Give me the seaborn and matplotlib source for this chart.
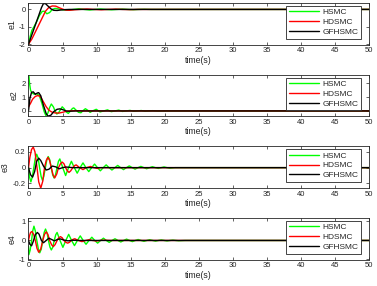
import numpy as np
import pandas as pd
import matplotlib
matplotlib.use("Agg")
import matplotlib.pyplot as plt
import seaborn as sns

# ---- donnees ----
series_names = ["HSMC", "HDSMC", "GFHSMC"]
series_colors = ["#00ff00", "#ff0000", "#000000"]

# e1
t_e1_hsmc = [0, 0.25, 0.5, 0.8, 1.2, 1.6, 2.0, 2.3, 2.7, 3.1, 3.5, 3.9, 4.4, 5.0, 5.8, 6.6, 7.4, 8.2,
             9.0, 9.8, 10.6, 11.4, 12.2, 13.0, 13.8, 14.6, 15.4, 16.2, 17.0, 18.0, 20.0, 50.0]
e1_hsmc = [-2.0, -1.55, -1.2, -1.0, -0.7, -0.35, -0.12, -0.1, -0.25, -0.18, 0.0, 0.06, 0.03, -0.02, -0.04,
           0.0, 0.035, 0.0, -0.03, 0.0, 0.025, 0.0, -0.02, 0.0, 0.018, 0.0, -0.015, 0.0, 0.01, 0.0, 0.0, 0.0]
t_e1_hdsmc = [0, 0.5, 1.0, 1.5, 2.0, 2.5, 3.0, 3.5, 4.0, 4.5, 5.0, 5.5, 6.0, 6.8, 7.5, 8.6, 9.6, 10.7,
              11.7, 12.8, 13.8, 14.9, 16.0, 18.0, 50.0]
e1_hdsmc = [-2.0, -1.7, -1.3, -0.9, -0.5, -0.1, 0.12, 0.2, 0.19, 0.1, 0.02, -0.04, -0.05, -0.02, 0.0,
            0.025, 0.0, -0.02, 0.0, 0.018, 0.0, -0.012, 0.0, 0.0, 0.0]
t_e1_gfhsmc = [0, 0.5, 1.0, 1.5, 1.9, 2.2, 2.5, 2.9, 3.3, 3.7, 4.2, 4.8, 5.4, 6.0, 50.0]
e1_gfhsmc = [-2.0, -1.45, -0.9, -0.35, 0.1, 0.34, 0.33, 0.18, 0.03, -0.05, -0.06, -0.03, -0.01, 0.0, 0.0]

# e2
t_e2_hsmc = [0, 0.15, 0.3, 0.5, 0.8, 1.2, 1.6, 2.0, 2.3, 2.55, 2.85, 3.1, 3.35, 3.65, 3.9, 4.15, 4.4,
             4.7, 4.95, 5.25, 5.55, 5.85, 6.15, 6.45, 6.65, 7.0, 7.35, 7.7, 8.0, 8.35, 8.7, 9.05, 9.4,
             9.95, 10.5, 11.05, 11.6, 12.15, 12.7, 13.25, 13.8, 14.35, 14.9, 15.45, 16.0, 16.55, 17.1,
             17.65, 18.2, 19.0, 20.0, 50.0]
e2_hsmc = [2.9, 2.0, 1.5, 1.3, 1.22, 1.25, 1.1, 0.5, -0.05, -0.33, -0.15, 0.25, 0.5, 0.3, 0.0, -0.22, -0.15,
           0.1, 0.3, 0.15, -0.08, -0.18, 0.0, 0.18, 0.22, 0.05, -0.1, -0.13, 0.02, 0.16, 0.05, -0.1, 0.0,
           0.12, -0.07, 0.0, 0.08, -0.05, 0.0, 0.06, -0.035, 0.0, 0.04, -0.025, 0.0, 0.03, -0.02, 0.0,
           0.02, -0.01, 0.0, 0.0]
t_e2_hdsmc = [0, 0.3, 0.6, 1.0, 1.4, 1.8, 2.2, 2.6, 3.0, 3.5, 4.0, 4.5, 5.0, 5.5, 6.0, 7.0, 8.0, 50.0]
e2_hdsmc = [0.3, 0.55, 0.85, 1.05, 1.12, 1.0, 0.65, 0.3, 0.05, -0.1, -0.15, -0.15, -0.1, -0.03, 0.0, 0.02, 0.0, 0.0]
t_e2_gfhsmc = [0, 0.2, 0.45, 0.7, 1.0, 1.3, 1.5, 1.8, 2.2, 2.6, 2.9, 3.3, 3.7, 4.2, 4.6, 5.0, 5.5, 6.0, 7.0, 50.0]
e2_gfhsmc = [0.0, 0.9, 1.35, 1.38, 1.2, 1.3, 1.32, 1.1, 0.4, -0.2, -0.38, -0.3, -0.05, 0.12, 0.15, 0.1,
             0.0, -0.02, 0.0, 0.0]

# e3
t_e3_hsmc = [0, 0.15, 0.35, 0.55, 0.78, 1.0, 1.2, 1.42, 1.63, 1.85, 2.05, 2.25, 2.48, 2.7, 2.9, 3.12, 3.33,
             3.55, 3.75, 3.97, 4.18, 4.4, 4.6, 5.03, 5.45, 5.88, 6.3, 6.73, 7.15, 7.58, 8.0, 8.43, 8.85,
             9.28, 9.7, 10.13, 10.55, 10.98, 11.4, 11.83, 12.25, 12.68, 13.1, 13.53, 13.95, 14.38, 14.8,
             15.23, 15.65, 16.08, 16.5, 16.93, 17.35, 17.78, 18.2, 18.63, 19.05, 19.48, 19.9, 20.33,
             20.75, 21.5, 22.5, 50.0]
e3_hsmc = [0.0, -0.12, -0.18, -0.12, 0.0, 0.12, 0.17, 0.12, 0.0, -0.11, -0.16, -0.11, 0.0, 0.1, 0.14, 0.1,
           0.0, -0.09, -0.13, -0.09, 0.0, 0.08, 0.11, 0.0, -0.1, 0.0, 0.08, 0.0, -0.07, 0.0, 0.06, 0.0,
           -0.05, 0.0, 0.045, 0.0, -0.04, 0.0, 0.035, 0.0, -0.03, 0.0, 0.028, 0.0, -0.025, 0.0, 0.022, 0.0,
           -0.019, 0.0, 0.016, 0.0, -0.014, 0.0, 0.012, 0.0, -0.01, 0.0, 0.009, 0.0, -0.007, 0.0, 0.0, 0.0]
t_e3_hdsmc = [0, 0.2, 0.45, 0.7, 0.95, 1.25, 1.5, 1.8, 2.1, 2.35, 2.6, 2.85, 3.1, 3.35, 3.6, 3.85, 4.15,
              4.4, 4.7, 4.95, 5.2, 5.45, 5.7, 5.95, 6.2, 6.5, 6.75, 7.0, 7.5, 8.0, 8.5, 9.1, 9.6, 10.1,
              10.6, 12.0, 50.0]
e3_hdsmc = [0.0, 0.13, 0.23, 0.26, 0.2, 0.0, -0.18, -0.26, -0.17, 0.0, 0.09, 0.13, 0.09, 0.0, -0.09, -0.13,
            -0.08, 0.0, 0.05, 0.07, 0.05, 0.0, -0.04, -0.06, -0.04, 0.0, 0.025, 0.035, 0.0, -0.025, 0.0,
            0.015, 0.0, -0.01, 0.0, 0.0, 0.0]
t_e3_gfhsmc = [0, 0.3, 0.6, 0.9, 1.2, 1.5, 1.8, 2.2, 2.6, 3.0, 3.5, 4.0, 4.5, 5.0, 5.5, 6.5, 50.0]
e3_gfhsmc = [0.0, -0.09, -0.12, -0.05, 0.08, 0.12, 0.09, 0.02, -0.03, -0.02, 0.02, 0.01, -0.015, 0.0,
             0.008, 0.0, 0.0]

# e4
t_e4_hsmc = [0, 0.05, 0.25, 0.45, 0.62, 0.8, 1.0, 1.22, 1.45, 1.65, 1.88, 2.08, 2.3, 2.5, 2.72, 2.93, 3.15,
             3.35, 3.57, 3.78, 4.0, 4.2, 4.63, 5.05, 5.48, 5.9, 6.33, 6.75, 7.18, 7.6, 8.03, 8.45, 8.88,
             9.3, 9.73, 10.15, 10.58, 11.0, 11.43, 11.85, 12.28, 12.7, 13.13, 13.55, 13.98, 14.4, 14.83,
             15.25, 15.68, 16.1, 16.53, 16.95, 17.38, 17.8, 18.23, 18.65, 19.08, 19.5, 19.93, 20.35,
             20.78, 21.2, 21.63, 22.05, 23.0, 50.0]
e4_hsmc = [-0.3, -0.75, -0.5, 0.0, 0.5, 0.75, 0.5, 0.0, -0.45, -0.65, -0.45, 0.0, 0.42, 0.6, 0.4, 0.0, -0.35,
           -0.5, -0.35, 0.0, 0.3, 0.42, 0.0, -0.36, 0.0, 0.32, 0.0, -0.27, 0.0, 0.24, 0.0, -0.2, 0.0,
           0.17, 0.0, -0.14, 0.0, 0.12, 0.0, -0.1, 0.0, 0.09, 0.0, -0.08, 0.0, 0.07, 0.0, -0.06, 0.0,
           0.05, 0.0, -0.045, 0.0, 0.04, 0.0, -0.035, 0.0, 0.03, 0.0, -0.025, 0.0, 0.02, 0.0, -0.015,
           0.0, 0.0]
t_e4_hdsmc = [0, 0.15, 0.3, 0.5, 0.75, 1.0, 1.25, 1.5, 1.8, 2.1, 2.35, 2.6, 2.85, 3.1, 3.4, 3.65, 3.9,
              4.2, 4.45, 4.7, 4.95, 5.2, 5.5, 5.75, 6.0, 6.3, 6.55, 6.8, 7.3, 7.85, 8.4, 8.9, 9.4,
              9.95, 10.5, 11.0, 12.0, 50.0]
e4_hdsmc = [0.0, 0.25, 0.42, 0.47, 0.33, 0.0, -0.42, -0.62, -0.45, 0.0, 0.32, 0.45, 0.32, 0.0, -0.23, -0.32,
            -0.22, 0.0, 0.14, 0.2, 0.14, 0.0, -0.1, -0.14, -0.1, 0.0, 0.06, 0.09, 0.0, -0.06, 0.0, 0.04,
            0.0, -0.025, 0.0, 0.015, 0.0, 0.0]
t_e4_gfhsmc = [0, 0.2, 0.45, 0.7, 1.0, 1.3, 1.55, 1.9, 2.2, 2.6, 3.0, 3.4, 3.8, 4.3, 4.7, 5.2, 5.8, 6.5,
               7.5, 50.0]
e4_gfhsmc = [0.0, -0.2, -0.28, -0.05, 0.3, 0.42, 0.33, 0.0, -0.12, 0.0, 0.12, 0.05, -0.02, 0.06, 0.08,
             0.02, -0.02, 0.01, 0.0, 0.0]

panel_labels = ["e1", "e2", "e3", "e4"]
panel_ylims = [(-2.02, 0.37), (-0.38, 2.62), (-0.255, 0.27), (-0.89, 1.18)]
panel_yticks = [[-2, -1, 0], [0, 1, 2], [-0.2, 0, 0.2], [-1, 0, 1]]
panel_yticklabels = [["-2", "-1", "0"], ["0", "1", "2"], ["-0.2", "0", "0.2"], ["-1", "0", "1"]]
x_ticks = [0, 5, 10, 15, 20, 25, 30, 35, 40, 45, 50]

panels = [
    [(t_e1_hsmc, e1_hsmc), (t_e1_hdsmc, e1_hdsmc), (t_e1_gfhsmc, e1_gfhsmc)],
    [(t_e2_hsmc, e2_hsmc), (t_e2_hdsmc, e2_hdsmc), (t_e2_gfhsmc, e2_gfhsmc)],
    [(t_e3_hsmc, e3_hsmc), (t_e3_hdsmc, e3_hdsmc), (t_e3_gfhsmc, e3_gfhsmc)],
    [(t_e4_hsmc, e4_hsmc), (t_e4_hdsmc, e4_hdsmc), (t_e4_gfhsmc, e4_gfhsmc)],
]

# ---- style ----
sns.set_style("ticks")
plt.rcParams['font.family'] = ['Liberation Sans', 'DejaVu Sans']
gris = "#262626"

W, H = 377, 286
fig = plt.figure(figsize=(W / 100, H / 100), dpi=100)
fig.patch.set_facecolor("white")

tops = [3, 74.7, 146.3, 218]
h_px = 41.5
left_px, w_px = 28.5, 340.5

for i, series in enumerate(panels):
    ax = fig.add_axes([left_px / W, 1 - (tops[i] + h_px) / H, w_px / W, h_px / H])
    for (t, y), name, col in zip(series, series_names, series_colors):
        df = pd.DataFrame({"t": t, "y": y})
        sns.lineplot(data=df, x="t", y="y", ax=ax, color=col, lw=1.0, label=name,
                     estimator=None, sort=False)
    ax.set_xlim(0, 50)
    ax.set_ylim(*panel_ylims[i])
    ax.set_xticks(x_ticks)
    ax.set_xticklabels([str(v) for v in x_ticks])
    ax.set_yticks(panel_yticks[i])
    ax.set_yticklabels(panel_yticklabels[i])
    ax.set_xlabel("time(s)", fontsize=6.3, color=gris, labelpad=1)
    ax.set_ylabel(panel_labels[i], fontsize=6.3, color=gris, labelpad=2)
    ax.tick_params(direction="in", length=2.5, width=0.5, top=True, right=True,
                   labelsize=5.5, colors=gris, pad=2)
    for sp in ax.spines.values():
        sp.set_visible(True)
        sp.set_linewidth(0.6)
        sp.set_color(gris)
    leg = ax.legend(loc="upper right", bbox_to_anchor=(0.9765, 0.93), fontsize=6,
                    frameon=True, fancybox=False, framealpha=1, edgecolor=gris,
                    borderpad=0.3, labelspacing=0.25, handlelength=3.6, handletextpad=0.45,
                    borderaxespad=0)
    leg.get_frame().set_linewidth(0.6)
    for line in leg.get_lines():
        line.set_linewidth(1.0)

fig.savefig("out.png", dpi=100, facecolor="white")
